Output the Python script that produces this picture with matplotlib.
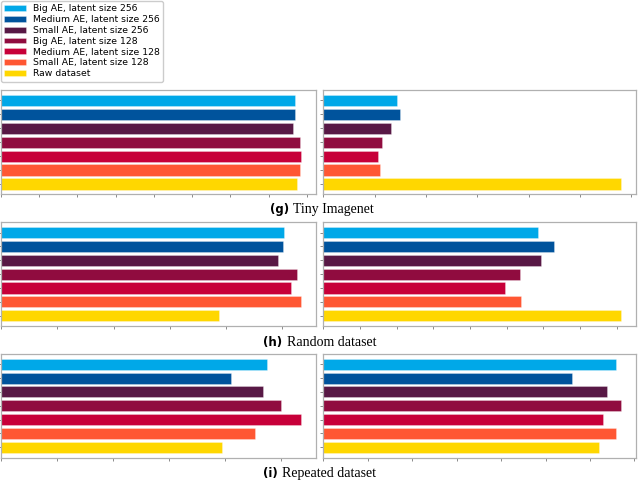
import numpy as np
import matplotlib; matplotlib.use("Agg")
import matplotlib.pyplot as plt
from matplotlib.ticker import MultipleLocator, NullFormatter

# series (top to bottom in each panel)
LABELS = ["Big AE, latent size 256", "Medium AE, latent size 256", "Small AE, latent size 256",
          "Big AE, latent size 128", "Medium AE, latent size 128", "Small AE, latent size 128",
          "Raw dataset"]
COLORS = ["#00a8e8", "#00539c", "#581845", "#900c3f", "#c70039", "#ff5733", "#ffd700"]

# values (arbitrary units, one tick = 1 unit)
tiny_left = [7.68, 7.68, 7.65, 7.83, 7.85, 7.83, 7.75]
tiny_right = [1.43, 1.49, 1.32, 1.14, 1.07, 1.10, 5.80]
random_left = [5.02, 5.01, 4.93, 5.26, 5.16, 5.33, 3.88]
random_right = [5.85, 6.30, 5.94, 5.35, 4.95, 5.40, 8.12]
repeated_left = [4.76, 4.11, 4.68, 5.00, 5.36, 4.54, 3.94]
repeated_right = [6.59, 5.59, 6.39, 6.70, 6.30, 6.59, 6.20]

ROWS = [("(g)", "Tiny Imagenet", tiny_left, tiny_right),
        ("(h)", "Random dataset", random_left, random_right),
        ("(i)", "Repeated dataset", repeated_left, repeated_right)]

W, H = 640, 480
fig = plt.figure(figsize=(6.4, 4.8), dpi=100)

# pixel layout: (top, bottom) of each row, caption baseline and caption left x
row_px = [(90, 194.3, 213, 270, 293), (222.3, 326, 346, 263, 287), (354, 457.5, 476.5, 263, 282.5)]
col_px = [(1, 316), (323.3, 636)]


def draw_panel(ax, vals):
    y = np.arange(len(vals))
    ax.barh(y, vals, height=0.8, color=COLORS, edgecolor=(1, 1, 1, 0.4), linewidth=0.5)
    ax.invert_yaxis()
    ax.set_yticks(y)
    ax.xaxis.set_major_locator(MultipleLocator(1))
    ax.xaxis.set_major_formatter(NullFormatter())
    ax.yaxis.set_major_formatter(NullFormatter())
    ax.tick_params(length=2.5, width=0.6, color="#777777")
    for s in ax.spines.values():
        s.set_color("#b0b0b0")
        s.set_linewidth(0.9)


handles = None
for (tag, name, lv, rv), (top, bot, base, xt, xn) in zip(ROWS, row_px):
    for (x0, x1), vals in zip(col_px, [lv, rv]):
        ax = fig.add_axes([x0 / W, 1 - bot / H, (x1 - x0) / W, (bot - top) / H])
        draw_panel(ax, vals)
        if handles is None:
            handles = ax.patches[:len(LABELS)]
    fig.text(xt / W, 1 - base / H, tag, fontsize=8.5, fontweight="bold",
             family="DejaVu Sans", ha="left", va="baseline")
    fig.text(xn / W, 1 - base / H, name, fontsize=10, family="Liberation Serif",
             ha="left", va="baseline")

leg = fig.legend(handles, LABELS, loc="upper left", bbox_to_anchor=(0, 1), borderaxespad=0.1,
                 fontsize=6.7, labelspacing=0.2, handlelength=2.3, handleheight=0.6,
                 borderpad=0.35, framealpha=1, edgecolor="#cccccc")

plt.savefig("out.png", dpi=100)
